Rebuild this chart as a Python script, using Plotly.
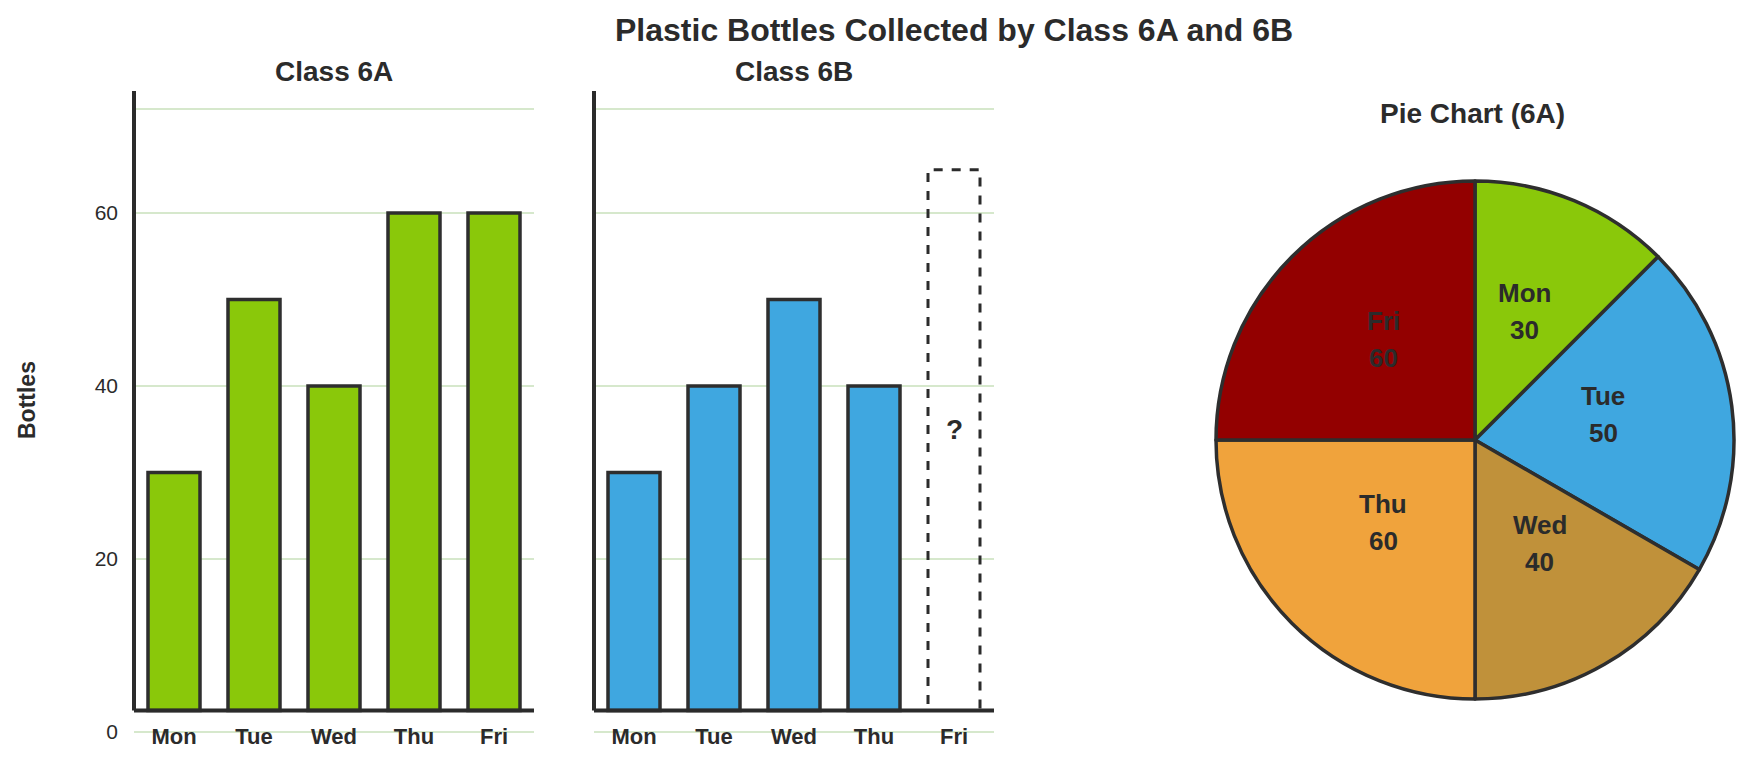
import math
import plotly.graph_objects as go

# data
days = ["Mon", "Tue", "Wed", "Thu", "Fri"]
class_6a = [30, 50, 40, 60, 60]
days_6b = ["Mon", "Tue", "Wed", "Thu"]
class_6b = [30, 40, 50, 40]
fri_6b_box = 65          # dashed "unknown" bar for 6B Friday
question_y = 35
y_ticks = [0, 20, 40, 60, 72]
y_tick_text = ["0", "20", "40", "60", ""]

# page has an 8px body margin, so the figure is drawn 8px in from the window edge
PAD = 8
WIN_W, WIN_H = 1755, 761
W, H = WIN_W - 2 * PAD, WIN_H - 2 * PAD
FONT = "Liberation Sans, Arial, sans-serif"
INK = "#2b2b2b"
EDGE = "#2e2e2e"
GRID = "#d6e8cc"
GREEN = "#8ac80a"
BLUE = "#3fa7e0"
pie_colors = [GREEN, BLUE, "#c0913a", "#f0a33c", "#930000"]

axis_base = 2.5          # bars stand on the axis line, a bit above the 0 gridline
y_range = [-1.5, 74.1]


def fx(px):
    return (px - PAD) / W


def fy(py):
    return 1 - (py - PAD) / H


fig = go.Figure()

fig.add_trace(go.Bar(
    x=days, y=[v - axis_base for v in class_6a], base=axis_base,
    marker=dict(color=GREEN, line=dict(color=EDGE, width=3.5)),
    xaxis="x", yaxis="y", hoverinfo="skip",
))
fig.add_trace(go.Bar(
    x=days_6b, y=[v - axis_base for v in class_6b], base=axis_base,
    marker=dict(color=BLUE, line=dict(color=EDGE, width=3.5)),
    xaxis="x2", yaxis="y2", hoverinfo="skip",
))

# pie: centre and radius in window pixels
pie_cx, pie_cy, pie_r = 1475, 440, 259
fig.add_trace(go.Pie(
    labels=days, values=class_6a,
    marker=dict(colors=pie_colors, line=dict(color=EDGE, width=3.5)),
    sort=False, direction="clockwise", rotation=0,
    textinfo="none",
    domain=dict(x=[fx(pie_cx - pie_r), fx(pie_cx + pie_r)],
                y=[fy(pie_cy + pie_r), fy(pie_cy - pie_r)]),
    hoverinfo="skip",
))

xaxis_common = dict(
    type="category", categoryorder="array", categoryarray=days, range=[-0.5, 4.5],
    showgrid=False, zeroline=False, showline=False, ticks="",
    tickfont=dict(family=FONT, size=22, color=INK, weight="bold"),
    ticklabelstandoff=-24,
)
yaxis_common = dict(
    range=y_range, tickvals=y_ticks, ticktext=y_tick_text,
    showgrid=True, gridcolor=GRID, gridwidth=2, zeroline=False, showline=False,
    ticks="",
)

fig.update_layout(
    width=W, height=H,
    margin=dict(l=0, r=0, t=0, b=0),
    paper_bgcolor="white", plot_bgcolor="white",
    showlegend=False, bargap=0.35,
    font=dict(family=FONT, color=INK),
    xaxis=dict(domain=[fx(134), fx(534)], anchor="y", **xaxis_common),
    yaxis=dict(domain=[fy(745), fy(91)], anchor="x",
               tickfont=dict(family=FONT, size=21, color=INK), ticklabelstandoff=15,
               **yaxis_common),
    xaxis2=dict(domain=[fx(594), fx(994)], anchor="y2", **xaxis_common),
    yaxis2=dict(domain=[fy(745), fy(91)], anchor="x2", showticklabels=False, **yaxis_common),
)

# axis lines (drawn by hand because the x axis sits above the 0 gridline)
shapes = []
for xr, yr in (("x", "y"), ("x2", "y2")):
    shapes.append(dict(type="line", xref=xr + " domain", yref=yr, x0=0, x1=1,
                       y0=axis_base, y1=axis_base, line=dict(color=INK, width=4), layer="above"))
    shapes.append(dict(type="line", xref=xr + " domain", yref=yr, x0=0, x1=0,
                       y0=axis_base, y1=y_range[1], line=dict(color=INK, width=4), layer="above"))
half = (1 - 0.35) / 2
fri_i = days.index("Fri")
shapes.append(dict(type="rect", xref="x2", yref="y2", x0=fri_i - half, x1=fri_i + half,
                   y0=axis_base, y1=fri_6b_box, fillcolor="rgba(0,0,0,0)",
                   line=dict(color=INK, width=3, dash="dash")))
fig.update_layout(shapes=shapes)

title_font = dict(family=FONT, size=28, color=INK, weight="bold")
annotations = [
    dict(text="Plastic Bottles Collected by Class 6A and 6B", x=fx(954), y=fy(30),
         font=dict(family=FONT, size=32, color=INK, weight="bold")),
    dict(text="Class 6A", x=fx(334), y=fy(71), font=title_font),
    dict(text="Class 6B", x=fx(794), y=fy(71), font=title_font),
    dict(text="Pie Chart (6A)", x=fx(1472), y=fy(113), font=title_font),
    dict(text="Bottles", x=fx(27), y=fy(400), textangle=-90,
         font=dict(family=FONT, size=23, color=INK, weight="bold")),
]

# pie labels: name and value at half radius on each slice's mid angle
label_font = dict(family=FONT, size=26, color=INK, weight="bold")
total = sum(class_6a)
start = 0.0
for day, val in zip(days, class_6a):
    mid = (start + val / 2) / total * 2 * math.pi
    start += val
    lx = pie_cx + 0.5 * pie_r * math.sin(mid)
    ly = pie_cy - 0.5 * pie_r * math.cos(mid) - 9
    annotations.append(dict(text=day, x=fx(lx), y=fy(ly - 18.5), font=label_font))
    annotations.append(dict(text=str(val), x=fx(lx), y=fy(ly + 18.5), font=label_font))

for a in annotations:
    a.update(xref="paper", yref="paper", showarrow=False, xanchor="center", yanchor="middle")
annotations.append(dict(text="?", x="Fri", y=question_y, xref="x2", yref="y2", showarrow=False,
                        font=dict(family=FONT, size=28, color=INK, weight="bold")))
fig.update_layout(annotations=annotations)

fig.write_html("out.html")
